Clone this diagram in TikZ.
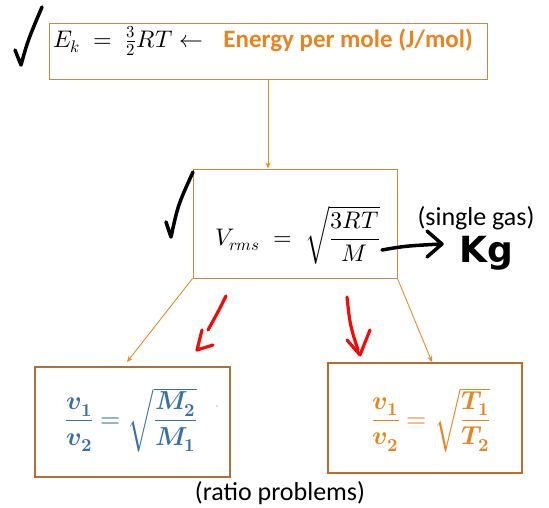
\documentclass[tikz,border=0pt]{standalone}
\usepackage{fontspec}
\usepackage{unicode-math}
\setmainfont{Carlito}
\setmathfont{Latin Modern Math}
\newfontfamily\handfont{DejaVu Sans}
\usetikzlibrary{arrows.meta,calc}
\definecolor{boxor}{RGB}{205,135,65}
\definecolor{boxbr}{RGB}{180,110,50}
\definecolor{lineor}{RGB}{228,140,40}
\definecolor{txtor}{RGB}{232,131,30}
\definecolor{txtbl}{RGB}{55,112,165}
\definecolor{hred}{RGB}{240,10,10}
\begin{document}
\begin{tikzpicture}[x=1pt,y=-1pt,
  box/.style={draw=boxor,line width=1pt,inner sep=0pt},
  bbox/.style={draw=boxbr,line width=1.3pt,inner sep=0pt},
  conn/.style={draw=lineor,line width=0.9pt,-{Stealth[length=6pt,width=5pt]}},
  tickmark/.style={line width=3.5pt,line cap=round,line join=round},
  redarr/.style={draw=hred,line width=3.2pt,line cap=round,line join=round},
  lbl/.style={inner sep=0pt}]
\useasboundingbox (0,0) rectangle (549,507);
% boxes
\node[box,minimum width=438pt,minimum height=56pt] (top) at (268,51) {};
\node[box,minimum width=204pt,minimum height=109pt] (mid) at (295,223.5) {};
\node[bbox,minimum width=195pt,minimum height=110pt] (bl) at (132.5,422) {};
\node[bbox,minimum width=194pt,minimum height=110pt] (br) at (425,418) {};
% texts
\node[lbl,anchor=base west] (eq1) at (53,47) {\fontsize{24}{28}\selectfont$E_k\;=\;\tfrac{3}{2}RT\boldsymbol{\leftarrow}$};
\node[lbl,anchor=base east] (en) at (473,47) {\fontsize{25}{30}\selectfont\bfseries\color{txtor}Energy per mole (J/mol)};
\node[lbl,anchor=base west] (eq2) at (215,245) {\fontsize{24}{28}\selectfont$V_{rms}\;=\;\sqrt{\dfrac{3RT}{M}}$};
\node[lbl] (eq3) at (131,420) {\fontsize{26}{30}\selectfont\color{txtbl}$\dfrac{\symbfit{v}_{\symbf{1}}}{\symbfit{v}_{\symbf{2}}}=\sqrt{\dfrac{\symbfit{M}_{\symbf{2}}}{\symbfit{M}_{\symbf{1}}}}$};
\node[lbl] (eq4) at (431,420) {\fontsize{26}{30}\selectfont\color{txtor}$\dfrac{\symbfit{v}_{\symbf{1}}}{\symbfit{v}_{\symbf{2}}}=\sqrt{\dfrac{\symbfit{T}_{\symbf{1}}}{\symbfit{T}_{\symbf{2}}}}$};
\node[lbl,anchor=base] (sg) at (476,225) {\fontsize{26}{30}\selectfont(single gas)};
\node[lbl,anchor=base] (rp) at (280,500) {\fontsize{26}{30}\selectfont(ratio problems)};
\node[lbl,anchor=base west] (kg) at (459,262) {\fontsize{36}{40}\selectfont\handfont\bfseries Kg};
\fill[gray!60] (217,406) circle (0.8pt);
% connectors
\coordinate (la) at (127,362);
\coordinate (ra) at (432,362);
\draw[conn] (top.south) -- (top.south |- mid.north);
\draw[conn] (mid.south west) -- (la);
\draw[conn] (mid.south east) -- (ra);
% check marks
\draw[tickmark] (15,50) -- (21,65) .. controls (28,40) .. (42,7);
\draw[tickmark] (166,222) -- (171,237) .. controls (178,205) .. (193,172);
% Kg arrow
\coordinate (ka) at (382,250);
\draw[tickmark] (ka) .. controls (405,246) .. (441,244);
\draw[tickmark] (427,231) -- (442,244) -- (427,257);
% red arrows
\draw[redarr] (226,296) .. controls (218,312) .. (208,330);
\draw[redarr] (202,330) -- (197,350) -- (213,345);
\draw[redarr] (347,297) .. controls (350,325) .. (358,350);
\draw[redarr] (347,340) -- (360,355) -- (370,330);
\end{tikzpicture}
\end{document}
